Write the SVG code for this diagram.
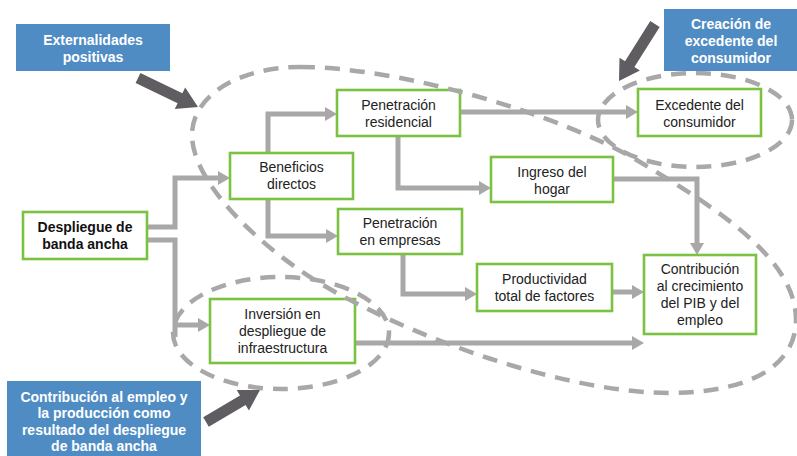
<svg xmlns="http://www.w3.org/2000/svg" width="797" height="456" viewBox="0 0 797 456">
<defs>
<style>
.box{fill:#fff;stroke:#7cc242;stroke-width:2.6}
.t{font-family:"Liberation Sans",Arial,sans-serif;font-size:14px;fill:#222;text-anchor:middle}
.tb{font-weight:bold;fill:#111}
.lbl{fill:#4f8cc4}
.lt{font-family:"Liberation Sans",Arial,sans-serif;font-size:14px;font-weight:bold;fill:#fff;text-anchor:middle}
.con{fill:none;stroke:#aaa7a8;stroke-width:5;stroke-linejoin:miter}
.dash{fill:none;stroke:#aaa7a8;stroke-width:4.5;stroke-dasharray:15 10}
.big{fill:#5f5d61}
</style>
<marker id="ah" viewBox="0 0 12 14" refX="0" refY="7" markerWidth="12" markerHeight="14" markerUnits="userSpaceOnUse" orient="auto">
<path d="M0,0 L12,7 L0,14 z" fill="#aaa7a8"/>
</marker>
</defs>
<rect width="797" height="456" fill="#fff"/>

<g id="connectors">
<polyline class="con" marker-end="url(#ah)" points="147,227 175,227 175,178 218,178"/>
<polyline class="con" points="147,240 175,240 175,337"/>
<polyline class="con" marker-end="url(#ah)" points="175,325 198,325"/>
<polyline class="con" marker-end="url(#ah)" points="268,153 268,114 325,114"/>
<polyline class="con" marker-end="url(#ah)" points="268,199 268,236 326,236"/>
<polyline class="con" marker-end="url(#ah)" points="460,112 626,112"/>
<polyline class="con" marker-end="url(#ah)" points="398,136 398,188 479,188"/>
<polyline class="con" marker-end="url(#ah)" points="613,179 697,179 697,243"/>
<polyline class="con" marker-end="url(#ah)" points="403,254 403,294 465,294"/>
<polyline class="con" marker-end="url(#ah)" points="612,292 632,292"/>
<polyline class="con" marker-end="url(#ah)" points="355,343 632,343"/>
</g>

<g id="n-despliegue"><rect class="box" x="23" y="212" width="124" height="47"/><text class="t tb" x="85" y="232">Despliegue de</text><text class="t tb" x="85" y="249">banda ancha</text></g>
<g id="n-beneficios"><rect class="box" x="230" y="153" width="123" height="46"/><text class="t" x="291.5" y="172">Beneficios</text><text class="t" x="291.5" y="189">directos</text></g>
<g id="n-penres"><rect class="box" x="337" y="90" width="123" height="46"/><text class="t" x="398.5" y="110">Penetración</text><text class="t" x="398.5" y="127">residencial</text></g>
<g id="n-excedente"><rect class="box" x="638" y="89" width="123" height="47"/><text class="t" x="699.5" y="110">Excedente del</text><text class="t" x="699.5" y="127">consumidor</text></g>
<g id="n-ingreso"><rect class="box" x="491" y="157" width="122" height="45"/><text class="t" x="552" y="177">Ingreso del</text><text class="t" x="552" y="194">hogar</text></g>
<g id="n-penemp"><rect class="box" x="338" y="209" width="124" height="45"/><text class="t" x="400" y="228">Penetración</text><text class="t" x="400" y="245">en empresas</text></g>
<g id="n-productividad"><rect class="box" x="477" y="264" width="135" height="47"/><text class="t" x="544.5" y="284">Productividad</text><text class="t" x="544.5" y="301">total de factores</text></g>
<g id="n-contribucion"><rect class="box" x="644" y="255" width="112" height="79"/><text class="t" x="700" y="274">Contribución</text><text class="t" x="700" y="291">al crecimiento</text><text class="t" x="700" y="308">del PIB y del</text><text class="t" x="700" y="325">empleo</text></g>
<g id="n-inversion"><rect class="box" x="210" y="299" width="145" height="64"/><text class="t" x="282.5" y="319">Inversión en</text><text class="t" x="282.5" y="336">despliegue de</text><text class="t" x="282.5" y="353">infraestructura</text></g>

<g id="groups">
<path class="dash" d="M300,67 C400,67 560,114 640,162 C720,210 796,260 796,320 C796,360 760,392 670,393 C570,393 427,343 337,293 C267,255 192,185 192,135 C192,95 240,67 300,67 Z"/>
<ellipse class="dash" cx="695" cy="120" rx="97" ry="47"/>
<ellipse class="dash" cx="281" cy="333" rx="108" ry="56"/>
</g>

<g id="l-externalidades"><rect class="lbl" x="16" y="24" width="154" height="47"/><text class="lt" x="93" y="45">Externalidades</text><text class="lt" x="93" y="62">positivas</text>
<polygon class="big" points="140.4,73 182.4,93.3 185.2,87.5 198,107 174.8,109.1 177.6,103.3 135.6,83"/></g>
<g id="l-creacion"><rect class="lbl" x="664" y="9" width="133" height="62"/><text class="lt" x="731" y="29">Creación de</text><text class="lt" x="731" y="46">excedente del</text><text class="lt" x="731" y="63">consumidor</text>
<polygon class="big" points="650.3,21.1 625,61.2 619.5,57.7 619,81 639.9,70.5 634.4,67 659.7,26.9"/></g>
<g id="l-contribucion"><rect class="lbl" x="7" y="381" width="194" height="75"/><text class="lt" x="104" y="402">Contribución al empleo y</text><text class="lt" x="104" y="418">la producción como</text><text class="lt" x="104" y="435">resultado del despliegue</text><text class="lt" x="104" y="451">de banda ancha</text>
<polygon class="big" points="203.2,417.3 240,395.5 236.7,389.9 260,390 248.9,410.5 245.6,404.9 208.8,426.7"/></g>
</svg>
